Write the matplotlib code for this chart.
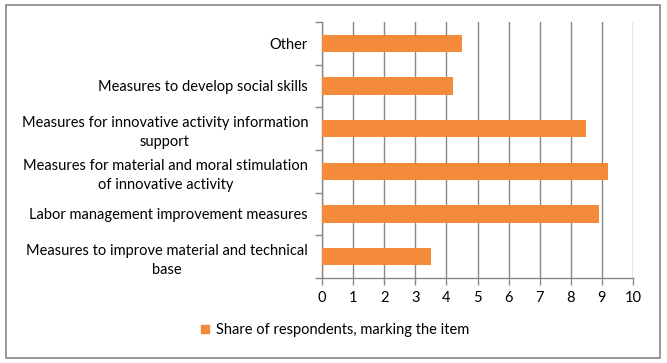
import matplotlib
matplotlib.use("Agg")
import matplotlib.pyplot as plt
from matplotlib.patches import Rectangle
from matplotlib.lines import Line2D
import numpy as np

categories = [
    "Measures to improve material and technical\nbase",
    "Labor management improvement measures",
    "Measures for material and moral stimulation\nof innovative activity",
    "Measures for innovative activity information\nsupport",
    "Measures to develop social skills",
    "Other",
]
values = [3.5, 8.9, 9.2, 8.5, 4.2, 4.5]
series_name = "Share of respondents, marking the item"
xticks = list(range(0, 11))

plt.rcParams['font.family'] = ['Lato', 'DejaVu Sans']

fig = plt.figure(figsize=(6.67, 3.63), dpi=100)
ax = fig.add_axes([322/667, 1-278/363, (633-322)/667, (278-22)/363])

y = np.arange(len(categories))
ax.barh(y, values, height=0.4, color='#F38B3A', zorder=3)
ax.set_xlim(0, 10)
ax.set_ylim(-0.5, len(categories) - 0.5)
ax.set_xticks(xticks)
ax.set_xticklabels([str(t) for t in xticks], fontsize=10.5)
ax.set_yticks(y)
ax.set_yticklabels(categories, fontsize=10.5, multialignment='center', linespacing=1.45)
ax.tick_params(axis='y', length=0, pad=10)
ax.set_yticks(np.arange(-0.5, len(categories)), minor=True)
ax.tick_params(axis='y', which='minor', length=5, color='#888888', width=1)
ax.tick_params(axis='x', length=5, color='#888888', width=1, pad=4)
ax.grid(axis='x', color='#888888', linewidth=1, zorder=0)
for s in ['top', 'right']:
    ax.spines[s].set_visible(False)
for s in ['left', 'bottom']:
    ax.spines[s].set_color('#888888')
    ax.spines[s].set_linewidth(1)

handle = Line2D([], [], marker='s', linestyle='none', markersize=6,
                markerfacecolor='#F38B3A', markeredgecolor='#F38B3A')
fig.legend([handle], [series_name], loc='center', bbox_to_anchor=(0.5, 1-330/363),
           frameon=False, fontsize=10.5, handletextpad=0.2, handlelength=1.0)

fig.patches.append(Rectangle((6/667, 1-358/363), (660-6)/667, (358-5)/363,
                             transform=fig.transFigure, fill=False,
                             edgecolor='#888888', linewidth=1.2))

fig.savefig("out.png", dpi=100)
